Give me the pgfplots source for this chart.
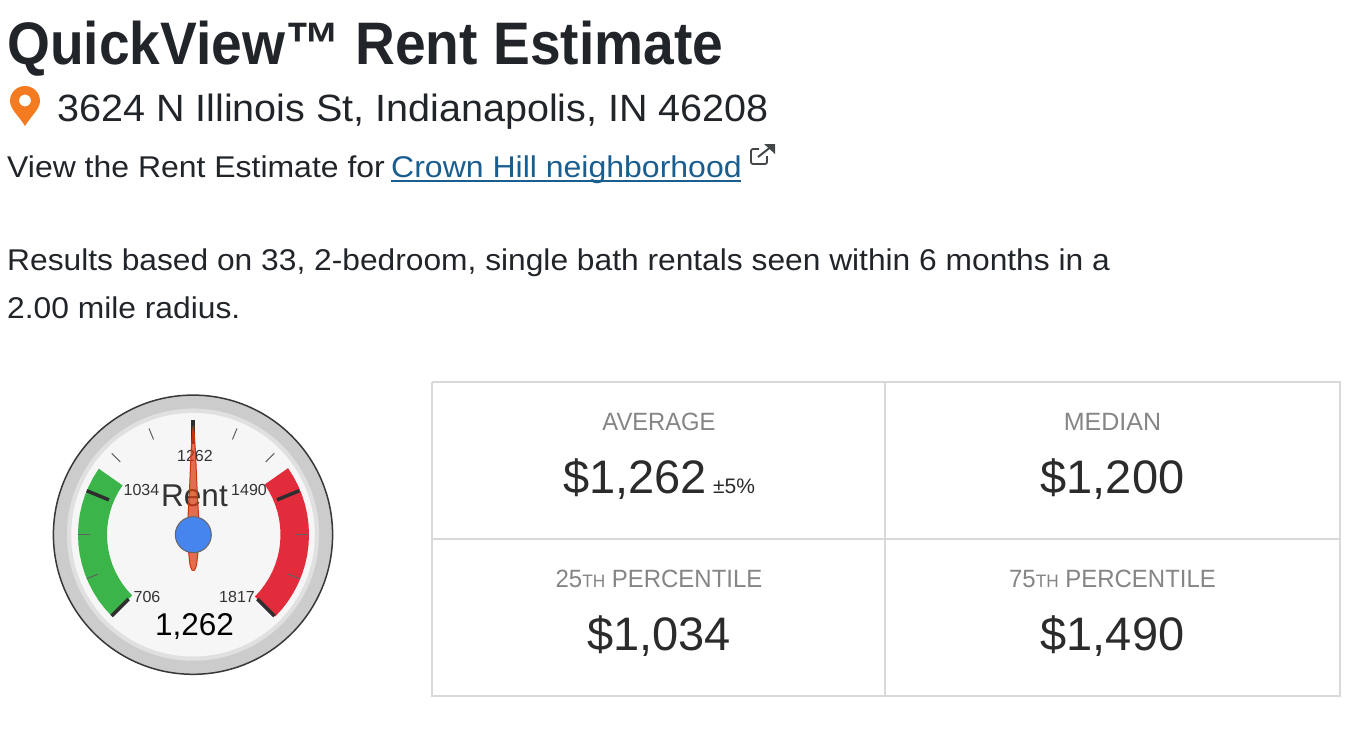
\documentclass[border=0pt]{standalone}
\usepackage{fontspec}
\setmainfont{Liberation Sans}
\usepackage{pgfplots}
\usepgfplotslibrary{polar}
\pgfplotsset{compat=1.18}
\definecolor{ink}{HTML}{212529}
\definecolor{linkc}{HTML}{1A5E8F}
\definecolor{grayt}{HTML}{858585}
\definecolor{valc}{HTML}{2B2B2B}
\definecolor{rule}{HTML}{D9D9D9}
\definecolor{pinc}{HTML}{F47B20}
\definecolor{gr}{HTML}{3BB54A}
\definecolor{rd}{HTML}{E22B3B}
\pgfplotsset{page/.style={hide axis,scale only axis,width=1356pt,height=752pt,
  xmin=0,xmax=1356,ymin=0,ymax=752,y dir=reverse,clip=false,at={(0pt,0pt)},anchor=south west}}
\newcommand\T[5][ink]{\node[anchor=base #2,inner sep=0pt,text=#1] at (axis cs:#3) {\fontsize{#4}{#4}\selectfont #5};}
\newcommand\TS[6][ink]{\node[anchor=base #2,inner sep=0pt,text=#1] at (axis cs:#3) {\scalebox{#5}[1]{\fontsize{#4}{#4}\selectfont #6}};}
\begin{document}
\begin{tikzpicture}
\path (0pt,0pt) rectangle (1356pt,752pt);
\begin{axis}[page]
% header
\TS{west}{7,64}{60pt}{0.919}{\bfseries QuickView™ Rent Estimate}
\TS{west}{57,121}{38pt}{1.04}{3624 N Illinois St, Indianapolis, IN 46208}
\TS{west}{7,177}{30pt}{1.065}{View the Rent Estimate for}
\TS[linkc]{west}{391,177}{30pt}{1.067}{Crown Hill neighborhood}
\addplot[linkc,line width=2pt,no markers] coordinates {(391,180.5)(741,180.5)};
\TS{west}{7,270}{30pt}{1.058}{Results based on 33, 2-bedroom, single bath rentals seen within 6 months in a}
\TS{west}{7,318}{30pt}{1.059}{2.00 mile radius.}
% pin
\fill[pinc,even odd rule] (axis cs:25,126) .. controls (axis cs:19,116) and (axis cs:10,109) .. (axis cs:10,101)
  arc[start angle=180,end angle=0,radius=15pt] .. controls (axis cs:40,109) and (axis cs:31,116) .. (axis cs:25,126) -- cycle
  (axis cs:31,100.5) arc[start angle=0,end angle=360,radius=6pt];
% external link icon
\draw[ink!85,line width=1.8pt,rounded corners=2pt] (axis cs:759,149) -- (axis cs:751,149) -- (axis cs:751,164) -- (axis cs:767,164) -- (axis cs:767,156);
\draw[ink!85,line width=2pt] (axis cs:758,157) -- (axis cs:772,146);
\fill[ink!85] (axis cs:764,144) -- (axis cs:775,144) -- (axis cs:775,154) -- cycle;
% grid
\addplot[rule,line width=2pt,no markers] coordinates {(432,382)(1340,382)(1340,696)(432,696)(432,382)};
\addplot[rule,line width=2pt,no markers] coordinates {(885,382)(885,696)};
\addplot[rule,line width=2pt,no markers] coordinates {(432,539)(1340,539)};
% cells
\TS[grayt]{}{659,430}{25pt}{0.95}{AVERAGE}
\T[grayt]{}{1112.5,430}{25pt}{MEDIAN}
\TS[grayt]{}{659,587}{25pt}{0.958}{25{\fontsize{18pt}{18pt}\selectfont TH} PERCENTILE}
\TS[grayt]{}{1112.5,587}{25pt}{0.958}{75{\fontsize{18pt}{18pt}\selectfont TH} PERCENTILE}
\T[valc]{west}{563,493}{47pt}{\$1,262}
\T[valc]{west}{713,493}{21pt}{±5\%}
\T[valc]{}{1112.5,493}{47pt}{\$1,200}
\T[valc]{}{659,650.5}{47pt}{\$1,034}
\T[valc]{}{1112.5,650.5}{47pt}{\$1,490}
% gauge body
\addplot[only marks,mark=*,mark size=139.6pt,mark options={draw=black!78,fill=black!20,line width=1.5pt}] coordinates {(193,534.7)};
\addplot[only marks,mark=*,mark size=126pt,mark options={draw=black!12,fill=black!12,line width=0.1pt}] coordinates {(193,534.7)};
\addplot[only marks,mark=*,mark size=121.7pt,mark options={draw=black!3.5,fill=black!3.5,line width=0.1pt}] coordinates {(193,534.7)};
\end{axis}
\begin{polaraxis}[hide axis,scale only axis,width=280pt,xmin=0,xmax=360,ymin=0,ymax=140,clip=false,
  at={(193pt,217.3pt)},anchor=center]
\addplot[fill=gr,draw=none,no markers] coordinates {
 (225,115)(220,115)(215,115)(210,115)(205,115)(200,115)(195,115)(190,115)(185,115)(180,115)(175,115)(170,115)(165,115)(160,115)(155,115)(150,115)(145,115)
 (145,86)(150,86)(155,86)(160,86)(165,86)(170,86)(175,86)(180,86)(185,86)(190,86)(195,86)(200,86)(205,86)(210,86)(215,86)(220,86)(225,86)(225,115)};
\addplot[fill=rd,draw=none,no markers] coordinates {
 (-45,116)(-40,116)(-35,116)(-30,116)(-25,116)(-20,116)(-15,116)(-10,116)(-5,116)(0,116)(5,116)(10,116)(15,116)(20,116)(25,116)(30,116)(35,116)
 (35,87.5)(30,87.5)(25,87.5)(20,87.5)(15,87.5)(10,87.5)(5,87.5)(0,87.5)(-5,87.5)(-10,87.5)(-15,87.5)(-20,87.5)(-25,87.5)(-30,87.5)(-35,87.5)(-40,87.5)(-45,87.5)(-45,116)};
% minor ticks
\pgfplotsset{minor/.style={black!62,line width=1pt,no markers},major/.style={black!82,line width=3.5pt,no markers}}
\addplot[minor] coordinates {(112.5,115)(112.5,103)};
\addplot[minor] coordinates {(135,115)(135,103)};
\addplot[minor] coordinates {(67.5,115)(67.5,103)};
\addplot[minor] coordinates {(45,115)(45,103)};
\addplot[minor] coordinates {(180,115)(180,103)};
\addplot[minor] coordinates {(202.5,115)(202.5,103)};
\addplot[minor] coordinates {(0,115)(0,103)};
\addplot[minor] coordinates {(-22.5,115)(-22.5,103)};
% major ticks
\addplot[major] coordinates {(225,115)(225,91)};
\addplot[major] coordinates {(157.5,115)(157.5,91)};
\addplot[major] coordinates {(90,115)(90,91)};
\addplot[major] coordinates {(22.5,115)(22.5,91)};
\addplot[major] coordinates {(-45,115)(-45,91)};
\end{polaraxis}
\begin{axis}[page]
\T[black!80]{}{195,461}{16pt}{1262}
\T[black!80]{}{141.5,495.5}{16pt}{1034}
\T[black!80]{}{249,495.5}{16pt}{1490}
\T[black!80]{}{147,602}{16pt}{706}
\T[black!80]{}{237,602}{16pt}{1817}
\T[black!80]{}{194.5,506.7}{31.5pt}{Rent}
\T[black]{}{194.5,635}{31.5pt}{1,262}
% needle
\addplot[draw={rgb,255:red,201;green,52;blue,15},fill={rgb,255:red,220;green,57;blue,18},fill opacity=0.72,line width=1pt,no markers] coordinates {
 (193.3,426)(194.3,435)(195.5,452)(196.9,485)(198.5,515)(198.7,535)(198,552)(196.6,565)(194.7,570)(193.3,570.5)
 (191.9,570)(190,565)(188.6,552)(187.9,535)(188.1,515)(189.7,485)(191.1,452)(192.3,435)(193.3,426)};
% hub
\addplot[only marks,mark=*,mark size=18pt,mark options={draw=black!60,fill={rgb,255:red,70;green,132;blue,238},line width=1pt}] coordinates {(193.3,534.7)};
\end{axis}
\end{tikzpicture}
\end{document}
